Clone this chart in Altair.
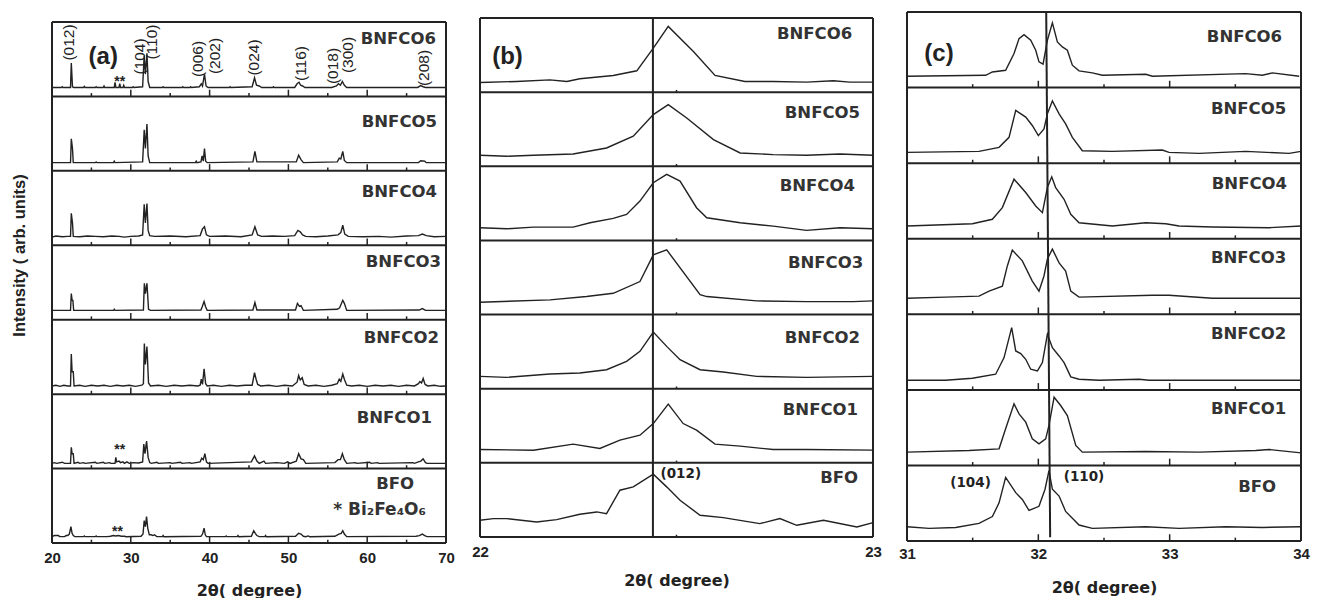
import altair as alt
import pandas as pd

INK = "#222222"

# ---------------- panel (a): 2theta 20-70, intensity inside each strip (0 = strip bottom, 1 = strip top)
a_bfo = [[20,0.085],[20.3,0.1],[20.8,0.1],[21.0,0.085],[21.6,0.085],[21.8,0.1],[22.0,0.1],[22.2,0.12],[22.4,0.22],[22.55,0.13],[22.7,0.1],[22.9,0.085],[24.0,0.085],[24.1,0.095],[24.2,0.085],[25.5,0.085],[25.6,0.095],[25.7,0.085],[27.0,0.085],[27.4,0.09],[27.8,0.1],[28.1,0.095],[28.4,0.1],[28.8,0.09],[29.2,0.09],[29.4,0.085],[31.3,0.09],[31.55,0.12],[31.7,0.3],[31.85,0.22],[32.0,0.355],[32.15,0.2],[32.35,0.11],[32.6,0.11],[32.8,0.1],[33.0,0.11],[33.3,0.085],[34.0,0.085],[34.1,0.1],[34.2,0.085],[38.9,0.09],[39.1,0.12],[39.3,0.2],[39.45,0.11],[39.6,0.085],[42.0,0.085],[42.1,0.095],[42.2,0.085],[43.5,0.085],[43.6,0.1],[43.7,0.085],[45.3,0.09],[45.6,0.165],[45.8,0.13],[46.0,0.1],[46.3,0.085],[47.0,0.085],[47.1,0.1],[47.2,0.085],[50.9,0.09],[51.3,0.13],[51.6,0.12],[51.9,0.09],[52.2,0.085],[52.5,0.095],[52.7,0.085],[55.9,0.09],[56.4,0.12],[56.7,0.13],[56.9,0.165],[57.1,0.12],[57.4,0.085],[66.2,0.09],[66.6,0.1],[67.0,0.12],[67.3,0.1],[67.6,0.085],[70,0.085]]
a_bnfco1 = [[20,0.07],[20.3,0.08],[20.6,0.07],[21.3,0.085],[21.6,0.07],[22.35,0.07],[22.45,0.285],[22.55,0.2],[22.7,0.2],[22.8,0.07],[23.3,0.085],[23.5,0.07],[24.0,0.08],[24.2,0.07],[25.5,0.085],[25.7,0.07],[26.5,0.085],[26.7,0.07],[27.3,0.08],[27.5,0.07],[28.0,0.07],[28.1,0.15],[28.2,0.09],[28.5,0.1],[28.7,0.08],[29.0,0.09],[29.2,0.07],[29.5,0.09],[29.8,0.07],[30.3,0.08],[31.0,0.075],[31.5,0.09],[31.65,0.33],[31.8,0.2],[32.0,0.37],[32.2,0.15],[32.4,0.08],[32.6,0.07],[33.3,0.085],[33.5,0.07],[35.0,0.08],[35.2,0.07],[36.3,0.085],[36.5,0.07],[37.5,0.08],[37.7,0.07],[38.8,0.09],[39.0,0.14],[39.2,0.12],[39.4,0.2],[39.6,0.09],[39.8,0.07],[45.3,0.09],[45.7,0.17],[46.0,0.1],[46.3,0.07],[46.9,0.1],[47.1,0.07],[48.5,0.08],[49.5,0.07],[49.9,0.09],[50.2,0.07],[51.0,0.1],[51.3,0.2],[51.6,0.13],[51.9,0.12],[52.2,0.07],[55.9,0.08],[56.3,0.12],[56.6,0.12],[56.85,0.2],[57.1,0.12],[57.4,0.07],[58.5,0.08],[58.7,0.07],[60.3,0.085],[60.5,0.07],[61.3,0.08],[61.5,0.07],[65.8,0.08],[66.0,0.07],[66.5,0.09],[66.8,0.1],[67.1,0.13],[67.4,0.08],[67.6,0.07],[70,0.07]]
a_bnfco2 = [[20,0.11],[20.5,0.12],[21.0,0.105],[21.5,0.12],[22.0,0.11],[22.35,0.11],[22.45,0.54],[22.55,0.3],[22.7,0.3],[22.8,0.11],[23.5,0.12],[24.2,0.105],[25.0,0.12],[25.8,0.11],[26.6,0.12],[27.4,0.105],[28.2,0.12],[29.0,0.11],[29.8,0.12],[30.6,0.105],[31.4,0.12],[31.6,0.14],[31.72,0.68],[31.85,0.4],[32.05,0.64],[32.25,0.15],[32.5,0.11],[33.5,0.12],[34.5,0.105],[35.5,0.12],[36.5,0.11],[37.5,0.12],[38.5,0.11],[38.8,0.12],[38.95,0.2],[39.1,0.13],[39.3,0.34],[39.5,0.14],[39.7,0.11],[40.5,0.12],[41.5,0.105],[42.5,0.12],[43.5,0.11],[44.5,0.12],[45.4,0.12],[45.7,0.29],[45.9,0.2],[46.1,0.13],[46.5,0.11],[47.5,0.12],[48.5,0.105],[49.5,0.12],[50.5,0.11],[51.1,0.16],[51.3,0.25],[51.5,0.19],[51.75,0.22],[52.0,0.13],[52.5,0.11],[53.5,0.12],[54.5,0.105],[55.5,0.12],[56.2,0.14],[56.45,0.2],[56.65,0.17],[56.9,0.27],[57.1,0.2],[57.4,0.12],[58.0,0.11],[59.0,0.12],[60.0,0.105],[61.0,0.12],[62.0,0.11],[63.0,0.12],[64.0,0.105],[65.0,0.12],[66.0,0.11],[66.5,0.14],[66.7,0.17],[66.9,0.15],[67.1,0.21],[67.35,0.13],[67.7,0.11],[68.5,0.12],[69.3,0.105],[70,0.11]]
a_bnfco3 = [[20,0.125],[22.35,0.125],[22.45,0.35],[22.55,0.26],[22.65,0.26],[22.75,0.125],[27.8,0.125],[27.9,0.14],[28.0,0.125],[31.6,0.13],[31.72,0.49],[31.85,0.35],[32.05,0.49],[32.25,0.14],[32.5,0.125],[38.9,0.13],[39.05,0.17],[39.3,0.245],[39.5,0.17],[39.7,0.125],[45.5,0.13],[45.75,0.23],[46.0,0.13],[50.9,0.13],[51.15,0.22],[51.4,0.18],[51.6,0.19],[51.9,0.125],[56.2,0.14],[56.5,0.16],[56.9,0.26],[57.1,0.22],[57.4,0.125],[66.6,0.13],[67.0,0.15],[67.4,0.125],[70,0.125]]
a_bnfco4 = [[20,0.11],[20.5,0.125],[21.3,0.115],[22.0,0.12],[22.35,0.12],[22.45,0.43],[22.6,0.3],[22.7,0.12],[23.5,0.115],[24.5,0.125],[25.5,0.12],[26.5,0.115],[27.6,0.125],[28.5,0.12],[29.2,0.11],[30.0,0.12],[31.0,0.125],[31.5,0.14],[31.7,0.55],[31.85,0.3],[32.05,0.56],[32.2,0.2],[32.4,0.13],[33.0,0.12],[35.0,0.125],[37.0,0.115],[38.8,0.13],[39.1,0.22],[39.35,0.25],[39.6,0.14],[40.0,0.12],[42.0,0.125],[44.0,0.115],[45.4,0.14],[45.75,0.25],[46.1,0.14],[46.6,0.12],[48.0,0.125],[49.5,0.12],[50.8,0.13],[51.2,0.2],[51.5,0.18],[51.8,0.14],[52.2,0.12],[53.5,0.115],[55.0,0.125],[56.3,0.14],[56.65,0.17],[56.9,0.27],[57.15,0.15],[57.6,0.12],[59.5,0.115],[61.5,0.12],[63.0,0.11],[65.0,0.125],[66.5,0.13],[67.0,0.15],[67.5,0.13],[68.5,0.115],[70,0.12]]
a_bnfco5 = [[20,0.11],[22.35,0.11],[22.45,0.43],[22.6,0.3],[22.7,0.11],[25.5,0.11],[25.6,0.12],[25.7,0.11],[27.8,0.11],[27.9,0.13],[28.0,0.11],[31.5,0.12],[31.7,0.55],[31.85,0.3],[32.05,0.63],[32.2,0.2],[32.4,0.11],[38.2,0.11],[38.3,0.13],[38.4,0.11],[38.9,0.12],[39.05,0.2],[39.2,0.13],[39.35,0.3],[39.5,0.13],[39.7,0.11],[45.5,0.12],[45.75,0.26],[46.0,0.12],[51.0,0.12],[51.3,0.21],[51.6,0.15],[51.9,0.11],[56.2,0.12],[56.45,0.17],[56.65,0.16],[56.9,0.26],[57.1,0.14],[57.4,0.11],[66.5,0.11],[66.8,0.135],[67.3,0.13],[67.5,0.11],[70,0.11]]
a_bnfco6 = [[20,0.12],[21.2,0.12],[21.3,0.13],[21.4,0.12],[22.35,0.12],[22.45,0.45],[22.6,0.13],[22.75,0.12],[24.0,0.12],[24.1,0.135],[24.2,0.12],[25.5,0.12],[25.6,0.13],[25.7,0.12],[26.5,0.12],[26.6,0.14],[26.7,0.12],[27.9,0.12],[28.0,0.19],[28.1,0.12],[28.5,0.12],[28.6,0.17],[28.7,0.12],[29.0,0.12],[29.1,0.15],[29.2,0.12],[30.2,0.12],[30.3,0.13],[30.4,0.12],[31.5,0.13],[31.7,0.55],[31.85,0.3],[32.05,0.58],[32.2,0.2],[32.4,0.12],[34.0,0.12],[34.1,0.13],[34.2,0.12],[36.5,0.12],[36.6,0.13],[36.7,0.12],[37.5,0.12],[37.6,0.13],[37.7,0.12],[38.7,0.13],[38.95,0.17],[39.1,0.14],[39.35,0.3],[39.55,0.14],[39.8,0.12],[42.5,0.12],[42.6,0.13],[42.7,0.12],[45.4,0.13],[45.7,0.25],[45.95,0.15],[46.3,0.14],[46.6,0.12],[48.0,0.12],[48.1,0.13],[48.2,0.12],[50.8,0.12],[51.1,0.17],[51.35,0.19],[51.55,0.15],[51.8,0.14],[52.1,0.12],[55.5,0.12],[56.1,0.14],[56.35,0.17],[56.6,0.15],[56.85,0.2],[57.1,0.15],[57.4,0.12],[66.4,0.12],[66.8,0.145],[67.1,0.13],[67.4,0.12],[70,0.12]]

# ---------------- panel (b): 2theta 22-23
b_bfo = [[22.0,0.225],[22.034,0.248],[22.068,0.248],[22.144,0.203],[22.195,0.234],[22.254,0.306],[22.297,0.338],[22.322,0.315],[22.356,0.631],[22.39,0.676],[22.441,0.847],[22.475,0.676],[22.509,0.495],[22.56,0.293],[22.619,0.261],[22.712,0.18],[22.763,0.248],[22.806,0.158],[22.874,0.225],[22.959,0.135],[23.0,0.194]]
b_bnfco1 = [[22.0,0.18],[22.136,0.171],[22.237,0.252],[22.305,0.194],[22.356,0.306],[22.407,0.373],[22.441,0.53],[22.479,0.792],[22.517,0.53],[22.551,0.441],[22.598,0.252],[22.662,0.225],[22.746,0.18],[22.831,0.18],[23.0,0.171]]
b_bnfco2 = [[22.0,0.166],[22.068,0.153],[22.178,0.198],[22.254,0.211],[22.322,0.256],[22.373,0.369],[22.407,0.504],[22.441,0.765],[22.475,0.571],[22.509,0.391],[22.56,0.256],[22.619,0.225],[22.704,0.166],[22.831,0.153],[23.0,0.166]]
b_bnfco3 = [[22.0,0.166],[22.178,0.198],[22.271,0.243],[22.339,0.287],[22.407,0.445],[22.441,0.806],[22.475,0.873],[22.56,0.27],[22.577,0.243],[22.704,0.185],[22.831,0.175],[22.95,0.175],[23.0,0.185]]
b_bnfco4 = [[22.0,0.171],[22.068,0.157],[22.136,0.18],[22.237,0.18],[22.28,0.238],[22.339,0.297],[22.373,0.351],[22.407,0.531],[22.441,0.778],[22.475,0.891],[22.509,0.801],[22.551,0.441],[22.577,0.306],[22.662,0.238],[22.746,0.193],[22.831,0.135],[22.916,0.171],[23.0,0.157]]
b_bnfco5 = [[22.0,0.148],[22.068,0.135],[22.136,0.148],[22.237,0.166],[22.322,0.247],[22.39,0.405],[22.441,0.697],[22.479,0.832],[22.526,0.652],[22.594,0.36],[22.662,0.18],[22.746,0.157],[22.831,0.148],[22.916,0.166],[23.0,0.148]]
b_bnfco6 = [[22.0,0.13],[22.093,0.144],[22.178,0.166],[22.221,0.144],[22.254,0.18],[22.339,0.225],[22.399,0.288],[22.441,0.594],[22.479,0.886],[22.543,0.549],[22.598,0.225],[22.674,0.144],[22.746,0.144],[22.831,0.135],[22.899,0.153],[22.941,0.135],[23.0,0.135]]

# ---------------- panel (c): 2theta 31-34
c_bfo = [[31.0,0.189],[31.168,0.167],[31.371,0.18],[31.548,0.234],[31.65,0.324],[31.701,0.505],[31.751,0.842],[31.828,0.64],[31.878,0.55],[31.929,0.405],[32.005,0.459],[32.051,0.685],[32.081,0.932],[32.107,0.685],[32.158,0.595],[32.208,0.392],[32.31,0.212],[32.411,0.167],[32.818,0.189],[33.072,0.167],[33.427,0.189],[33.706,0.18],[34.0,0.189]]
c_bnfco1 = [[31.0,0.176],[31.472,0.198],[31.701,0.22],[31.751,0.485],[31.815,0.815],[31.853,0.683],[31.904,0.573],[31.954,0.352],[32.005,0.286],[32.056,0.352],[32.081,0.529],[32.12,0.903],[32.17,0.793],[32.221,0.661],[32.285,0.264],[32.335,0.176],[32.818,0.185],[33.224,0.176],[33.655,0.198],[33.757,0.211],[34.0,0.167]]
c_bnfco2 = [[31.0,0.128],[31.294,0.128],[31.498,0.154],[31.675,0.207],[31.739,0.427],[31.797,0.824],[31.828,0.515],[31.866,0.48],[31.904,0.405],[31.942,0.273],[31.993,0.251],[32.031,0.361],[32.069,0.736],[32.107,0.559],[32.158,0.449],[32.196,0.361],[32.247,0.172],[32.31,0.141],[32.462,0.128],[32.767,0.141],[32.843,0.128],[33.325,0.128],[34.0,0.128]]
c_bnfco3 = [[31.0,0.213],[31.294,0.227],[31.548,0.24],[31.625,0.307],[31.726,0.373],[31.764,0.64],[31.802,0.849],[31.878,0.707],[31.954,0.44],[32.005,0.307],[32.043,0.507],[32.069,0.733],[32.107,0.863],[32.158,0.68],[32.208,0.573],[32.247,0.307],[32.31,0.227],[32.868,0.253],[32.995,0.253],[33.325,0.213],[34.0,0.213]]
c_bnfco4 = [[31.0,0.168],[31.498,0.199],[31.65,0.257],[31.726,0.412],[31.815,0.788],[31.904,0.611],[31.98,0.434],[32.031,0.345],[32.069,0.677],[32.102,0.819],[32.132,0.677],[32.196,0.522],[32.247,0.323],[32.31,0.212],[32.564,0.168],[32.818,0.212],[32.97,0.199],[33.072,0.168],[33.325,0.155],[33.757,0.146],[34.0,0.168]]
c_bnfco5 = [[31.0,0.142],[31.548,0.156],[31.701,0.209],[31.777,0.342],[31.828,0.698],[31.904,0.609],[31.954,0.498],[32.0,0.364],[32.043,0.453],[32.069,0.653],[32.107,0.822],[32.158,0.653],[32.208,0.52],[32.259,0.342],[32.335,0.164],[32.564,0.156],[32.944,0.173],[32.995,0.142],[33.224,0.129],[33.579,0.156],[33.909,0.129],[34.0,0.156]]
c_bnfco6 = [[31.0,0.15],[31.599,0.163],[31.65,0.207],[31.751,0.229],[31.815,0.45],[31.853,0.648],[31.891,0.701],[31.942,0.626],[31.98,0.494],[32.005,0.34],[32.036,0.309],[32.069,0.626],[32.107,0.856],[32.145,0.604],[32.183,0.538],[32.221,0.494],[32.259,0.296],[32.31,0.221],[32.411,0.194],[32.488,0.163],[32.818,0.176],[32.868,0.15],[33.579,0.185],[33.706,0.163],[33.782,0.194],[33.986,0.15]]

samples = ["BFO", "BNFCO1", "BNFCO2", "BNFCO3", "BNFCO4", "BNFCO5", "BNFCO6"]
a_series = [a_bfo, a_bnfco1, a_bnfco2, a_bnfco3, a_bnfco4, a_bnfco5, a_bnfco6]
b_series = [b_bfo, b_bnfco1, b_bnfco2, b_bnfco3, b_bnfco4, b_bnfco5, b_bnfco6]
c_series = [c_bfo, c_bnfco1, c_bnfco2, c_bnfco3, c_bnfco4, c_bnfco5, c_bnfco6]

# sample-name label anchors (right edge x, vertical position) per panel
a_lab_x = [65.94, 68.22, 69.11, 69.37, 68.86, 68.86, 68.73]
a_lab_y = [0.79, 1.685, 2.76, 3.78, 4.71, 5.65, 6.77]
b_lab_x = [22.962, 22.962, 22.967, 22.975, 22.954, 22.967, 22.947]
b_lab_y = [0.796, 1.713, 2.684, 3.70, 4.734, 5.725, 6.784]
c_lab_x = [33.81, 33.887, 33.887, 33.887, 33.894, 33.887, 33.856]
c_lab_y = [0.72, 1.747, 2.739, 3.751, 4.723, 5.717, 6.663]

a_hkl = ["(012)", "(104)", "(110)", "(006)", "(202)", "(024)", "(116)", "(018)", "(300)", "(208)"]
a_hkl_x = [22.2, 31.23, 32.75, 38.47, 40.69, 45.63, 51.54, 55.6, 57.5, 67.2]
a_hkl_y = [6.724, 6.536, 6.73, 6.503, 6.543, 6.523, 6.442, 6.409, 6.556, 6.382]


def curves_df(series):
    rows = []
    for k, pts in enumerate(series):
        for i, (x, v) in enumerate(pts):
            rows.append({"x": x, "y": k + v, "s": samples[k], "o": i})
    return pd.DataFrame(rows)


def frame_df(x0, x1):
    rows = [{"x": x0, "x2": x1, "y": k, "y2": k} for k in range(8)]
    rows += [{"x": x, "x2": x, "y": 0, "y2": 7} for x in (x0, x1)]
    return pd.DataFrame(rows)


def ticks_df(major, minor, lmaj, lmin):
    rows = []
    for k in range(7):
        rows += [{"x": t, "x2": t, "y": k, "y2": k + lmaj} for t in major]
        rows += [{"x": t, "x2": t, "y": k, "y2": k + lmin} for t in minor]
    return pd.DataFrame(rows)


def panel(series, xdom, ydom, width, xvals, lab_x, lab_y, major, minor, lmaj, lmin,
          label_pad, title_y, extra_text, extra_rules, yaxis):
    xs = alt.Scale(domain=xdom, nice=False, zero=False)
    ys = alt.Scale(domain=ydom, nice=False, zero=False)
    xaxis = alt.Axis(values=xvals, format="d", labelFont="Liberation Sans", labelFontWeight="bold",
                     labelFontSize=15, labelColor=INK, labelFlush=False, labelPadding=label_pad,
                     ticks=False, domain=False, grid=False, title="2θ( degree)",
                     titleFont="DejaVu Sans", titleFontWeight="bold", titleFontSize=16,
                     titleColor=INK, titleY=title_y, titleBaseline="middle")
    X = alt.X("x:Q", scale=xs, axis=xaxis)
    Y = alt.Y("y:Q", scale=ys, axis=yaxis)

    lines = alt.Chart(curves_df(series)).mark_line(color=INK, strokeWidth=1.4).encode(
        x=X, y=Y, detail="s:N", order="o:Q")
    frame = alt.Chart(frame_df(xdom[0], xdom[1])).mark_rule(color=INK, strokeWidth=2).encode(
        x=X, x2="x2:Q", y=Y, y2="y2:Q")
    ticks = alt.Chart(ticks_df(major, minor, lmaj, lmin)).mark_rule(color=INK, strokeWidth=1.5).encode(
        x=X, x2="x2:Q", y=Y, y2="y2:Q")
    names = pd.DataFrame({"x": lab_x, "y": lab_y, "t": samples})
    name_txt = alt.Chart(names).mark_text(align="right", baseline="middle", font="DejaVu Sans",
                                          fontWeight="bold", fontSize=16.5, color="#333333").encode(
        x=X, y=Y, text="t:N")
    layers = [frame, ticks, lines, name_txt]
    for df, props in extra_rules:
        layers.append(alt.Chart(df).mark_rule(**props).encode(x=X, x2="x2:Q", y=Y, y2="y2:Q"))
    for df, props in extra_text:
        layers.append(alt.Chart(df).mark_text(**props).encode(x=X, y=Y, text="t:N"))
    return alt.layer(*layers).properties(width=width, height=531)


bold_lbl = dict(font="Liberation Sans", fontWeight="bold", fontSize=24, color=INK,
                align="center", baseline="middle")
hkl_b = dict(font="DejaVu Sans", fontWeight="bold", fontSize=13.5, color=INK,
             align="center", baseline="middle")

# ----- panel (a)
a_extra = [
    (pd.DataFrame({"x": [26.5], "y": [6.53], "t": ["(a)"]}), bold_lbl),
    (pd.DataFrame({"x": a_hkl_x, "y": a_hkl_y, "t": a_hkl}),
     dict(font="Liberation Sans", fontSize=15.5, color=INK, angle=270, align="center", baseline="middle")),
    (pd.DataFrame({"x": [28.6, 28.6, 28.3], "y": [6.2, 1.25, 0.15], "t": ["**", "**", "**"]}),
     dict(font="Liberation Sans", fontWeight="bold", fontSize=14, color=INK, align="center", baseline="middle")),
    (pd.DataFrame({"x": [67.46], "y": [0.444], "t": ["* Bi₂Fe₄O₆"]}),
     dict(font="DejaVu Sans", fontWeight="bold", fontSize=17, color="#333333", align="right", baseline="middle")),
]
yaxis_a = alt.Axis(labels=False, ticks=False, domain=False, grid=False, title="Intensity ( arb. units)",
                   titleFont="Liberation Sans", titleFontWeight="bold", titleFontSize=16.5, titleColor=INK,
                   titleAngle=270, titleX=-33, titleY=243, titleBaseline="middle")
pa = panel(a_series, [20, 70], [0, 7.134], 394, [20, 30, 40, 50, 60, 70], a_lab_x, a_lab_y,
           [30, 40, 50, 60], [25, 35, 45, 55, 65], 0.09, 0.045, 7, 47, a_extra, [], yaxis_a)

# ----- panel (b)
b_extra = [
    (pd.DataFrame({"x": [22.07], "y": [6.48], "t": ["(b)"]}), bold_lbl),
    (pd.DataFrame({"x": [22.511], "y": [0.845], "t": ["(012)"]}), hkl_b),
]
b_rules = [(pd.DataFrame({"x": [22.44], "x2": [22.44], "y": [0], "y2": [7]}),
            dict(color=INK, strokeWidth=2))]
pb = panel(b_series, [22, 23], [-0.081, 7.081], 393, [22, 23], b_lab_x, b_lab_y,
           [], [22.5], 0.03, 0.03, 1, 37, b_extra, b_rules, None)

# ----- panel (c)
c_extra = [
    (pd.DataFrame({"x": [31.244], "y": [6.45], "t": ["(c)"]}), bold_lbl),
    (pd.DataFrame({"x": [31.484, 32.348], "y": [0.762, 0.848], "t": ["(104)", "(110)"]}), hkl_b),
]
c_rules = [(pd.DataFrame({"x": [32.06], "x2": [32.09], "y": [7.0], "y2": [0.05]}),
            dict(color=INK, strokeWidth=2))]
pc = panel(c_series, [31, 34], [-0.026, 7.0], 394, [31, 32, 33, 34], c_lab_x, c_lab_y,
           [32, 33], [31.5, 32.5, 33.5], 0.09, 0.045, 3, 44, c_extra, c_rules, None)

chart = alt.hconcat(pa, pb, pc, spacing=34, bounds="flush").properties(
    padding={"left": 11, "top": 11, "right": 5, "bottom": 2},
    background="white",
).configure_view(stroke=None)

chart.save("out.html", embed_options={"renderer": "svg", "actions": False})
